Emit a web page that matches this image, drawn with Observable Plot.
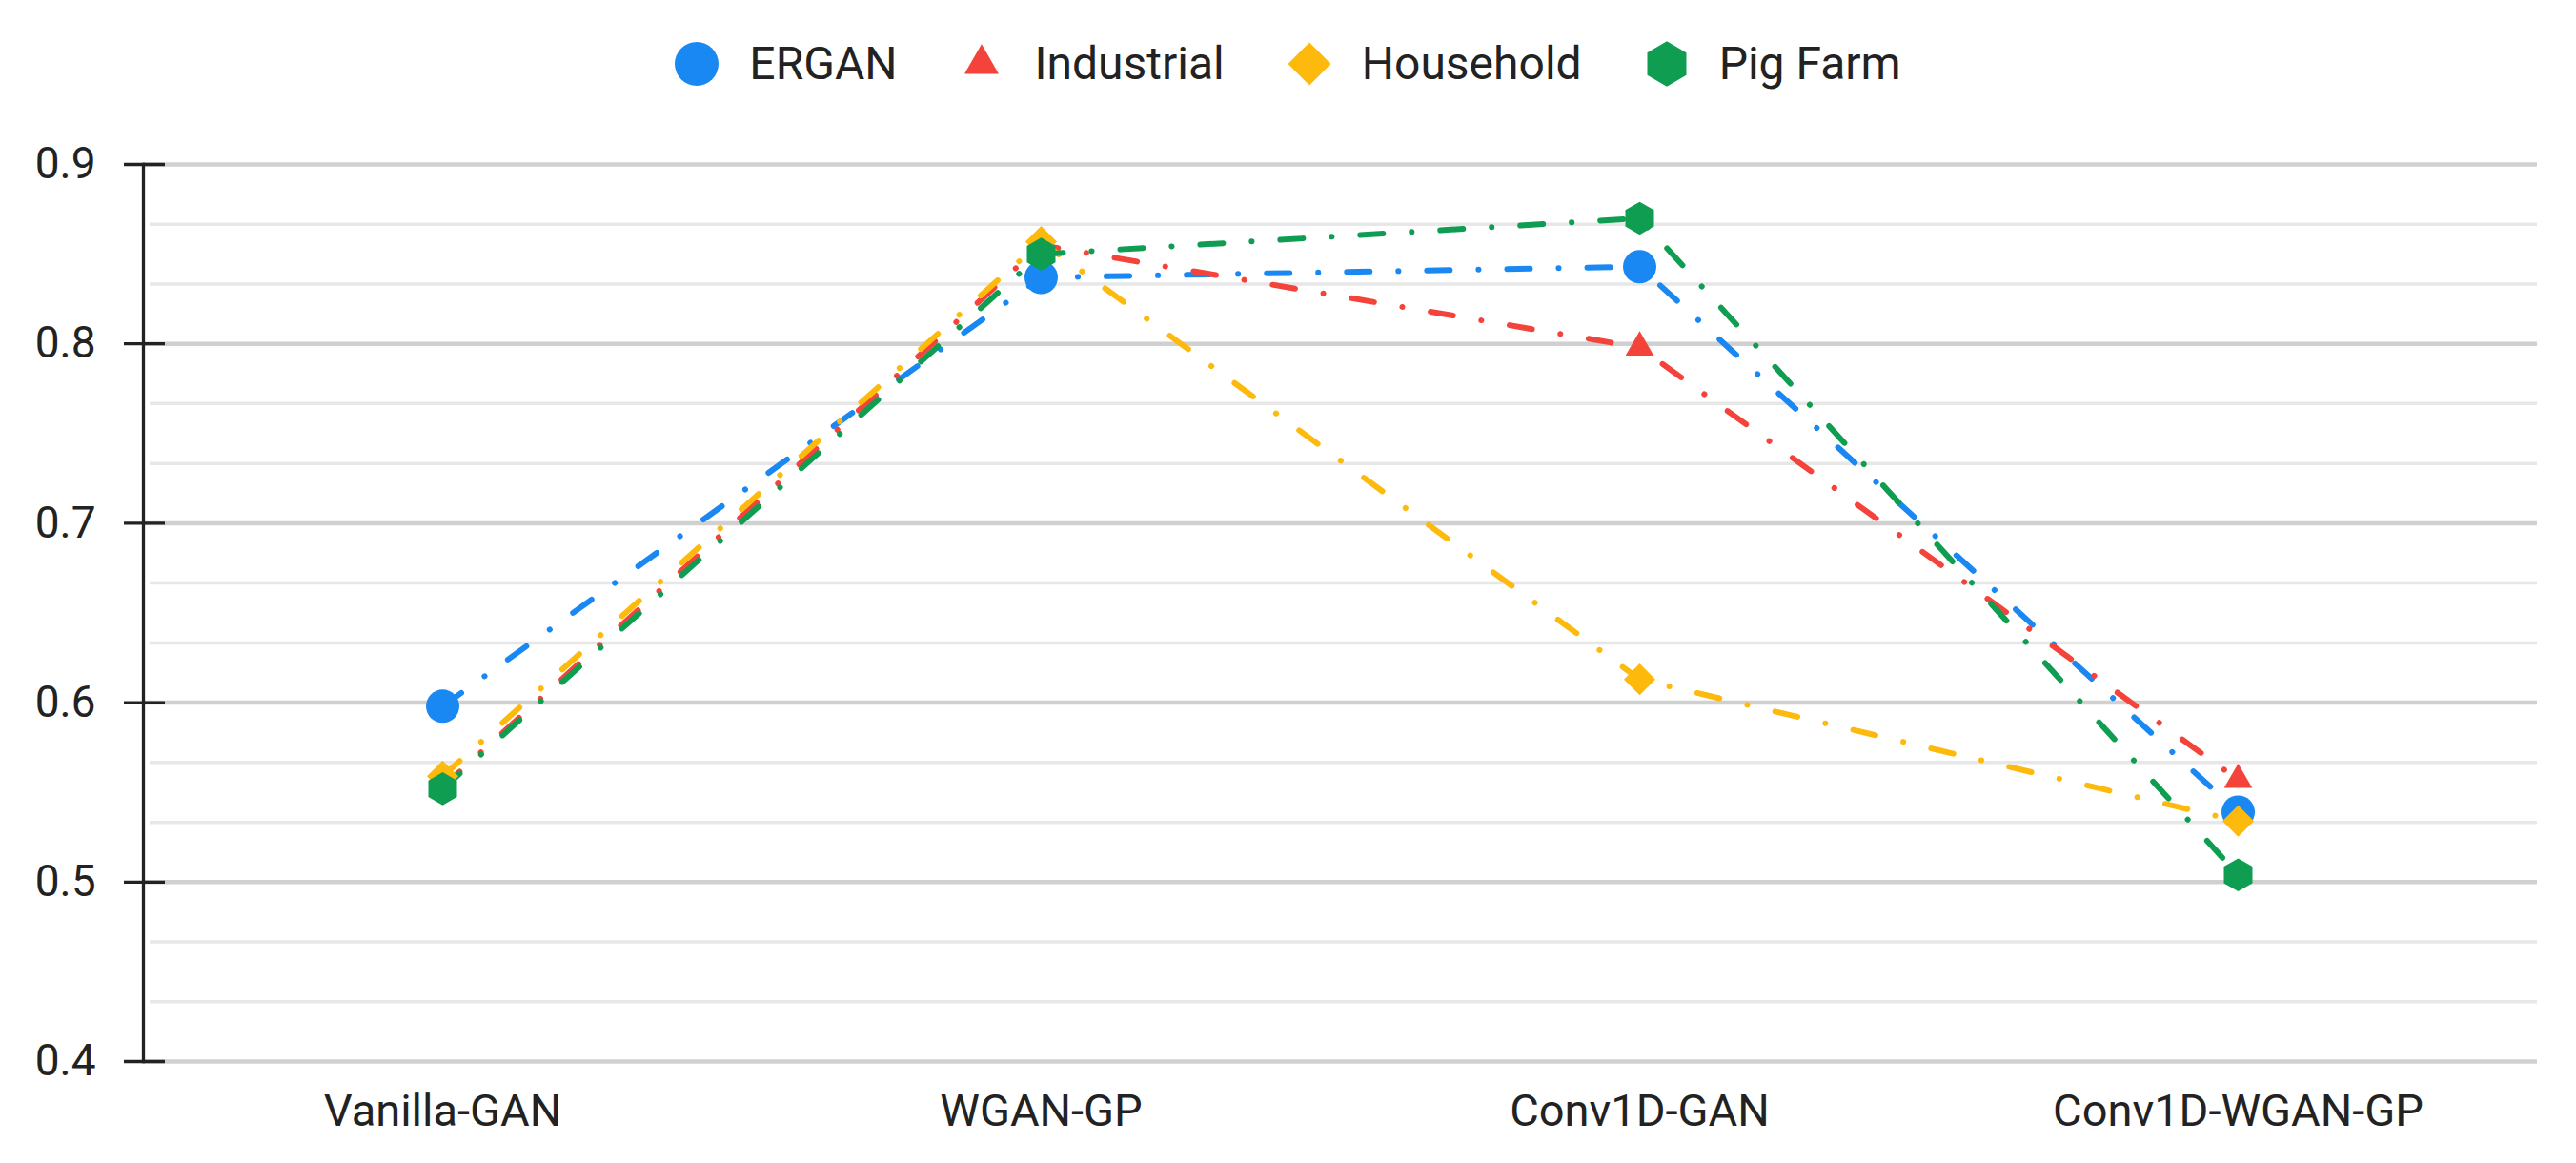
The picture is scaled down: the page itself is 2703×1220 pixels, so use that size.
<!DOCTYPE html>
<html>
<head>
<meta charset="utf-8">
<script src="https://cdn.jsdelivr.net/npm/d3@7"></script>
<script src="https://cdn.jsdelivr.net/npm/@observablehq/plot@0.6"></script>
<style>
  html, body { margin: 0; padding: 0; background: #fff; }
  body { font-family: Roboto, "Liberation Sans", Arial, sans-serif; width: 2703px; }
  #legend { height: 120px; display: flex; justify-content: center; align-items: center; padding-top: 14px; box-sizing: border-box; }
  .item { display: flex; align-items: center; margin-right: 66px; }
  .item:last-child { margin-right: 0; }
  .item svg { display: block; }
  .item span { margin-left: 32px; font-size: 48px; color: #222; line-height: 1; }
  #chart svg { display: block; }
</style>
</head>
<body>
<div id="legend"></div>
<div id="chart"></div>
<script>
// ---- data ----
const categories = ["Vanilla-GAN", "WGAN-GP", "Conv1D-GAN", "Conv1D-WGAN-GP"];
const seriesNames = ["ERGAN", "Industrial", "Household", "Pig Farm"];
const ergan      = [0.598, 0.837, 0.843, 0.539];
const industrial = [0.553, 0.855, 0.798, 0.557];
const household  = [0.559, 0.857, 0.613, 0.534];
const pigFarm    = [0.552, 0.850, 0.870, 0.504];
const yTicks = [0.4, 0.5, 0.6, 0.7, 0.8, 0.9];
const yTickLabels = ["0.4", "0.5", "0.6", "0.7", "0.8", "0.9"];
const yMinor = [0.4333, 0.4667, 0.5333, 0.5667, 0.6333, 0.6667, 0.7333, 0.7667, 0.8333, 0.8667];

// ---- styling ----
const colors = ["#1a88f2", "#f4433a", "#fdba0c", "#0f9d52"];
const symbols = ["circle", "triangle", "diamond2", "hexagon"];
const dotR = [17.5, 11, 14.9, 15];

const valuesBySeries = [ergan, industrial, household, pigFarm];
const rows = seriesNames.flatMap((s, i) =>
  categories.map((c, j) => ({series: s, category: c, value: valuesBySeries[i][j]}))
);

// ---- legend ----
const sqrt3 = Math.sqrt(3);
const hexPath = (r) => {
  const ry = r * 2 / sqrt3, hy = ry / 2;
  return `M0,${ry}L${r},${hy}L${r},${-hy}L0,${-ry}L${-r},${-hy}L${-r},${hy}Z`;
};
const legendPaths = [
  d3.symbol(d3.symbolCircle, Math.PI * 23 * 23)(),
  d3.symbol(d3.symbolTriangle, 560)(),
  d3.symbol(d3.symbolDiamond2, 1290)(),
  hexPath(20.5)
];
const legend = d3.select("#legend");
seriesNames.forEach((s, i) => {
  const item = legend.append("div").attr("class", "item");
  const svg = item.append("svg").attr("width", 46).attr("height", 50)
    .attr("viewBox", "-23 -25 46 50");
  svg.append("path").attr("d", legendPaths[i]).attr("fill", colors[i]);
  item.append("span").text(s);
});

// ---- chart ----
const W = 2703, H = 1100;
const frameW = W - 150 - 41;
const lineMarks = seriesNames.map((s, i) =>
  Plot.line(rows.filter(d => d.series === s), {
    x: "category", y: "value",
    stroke: colors[i], strokeWidth: 6,
    strokeDasharray: "24,30,0.1,30", strokeLinecap: "round"
  })
);
const dotMarks = seriesNames.map((s, i) =>
  Plot.dot(rows.filter(d => d.series === s), {
    x: "category", y: "value",
    symbol: () => symbols[i], r: dotR[i],
    fill: colors[i], stroke: "none"
  })
);

const chart = Plot.plot({
  width: W, height: H,
  marginTop: 52, marginBottom: 107, marginLeft: 150, marginRight: 41,
  x: {type: "point", domain: categories, padding: 0.5, label: null},
  y: {domain: [0.4, 0.9], label: null},
  symbol: {type: "identity"},
  style: {fontFamily: "Roboto, 'Liberation Sans', sans-serif", color: "#222", background: "#fff", overflow: "visible"},
  marks: [
    Plot.ruleY(yMinor, {stroke: "#e7e7e7", strokeWidth: 3.5, insetLeft: 7}),
    Plot.ruleY(yTicks, {stroke: "#d0d0d0", strokeWidth: 4.5}),
    Plot.frame({anchor: "left", stroke: "#222", strokeWidth: 3.3}),
    Plot.ruleY(yTicks, {stroke: "#222", strokeWidth: 3.3, insetLeft: -20, insetRight: frameW - 23}),
    Plot.axisY({ticks: yTicks, tickSize: 0, tickPadding: 50, tickFormat: (d, i) => yTickLabels[yTicks.indexOf(d)], fontSize: 46, fill: "#222"}),
    Plot.axisX({tickSize: 0, tickPadding: 34, fontSize: 47, fill: "#222"}),
    ...lineMarks,
    ...dotMarks
  ]
});
document.getElementById("chart").append(chart);
</script>
</body>
</html>
